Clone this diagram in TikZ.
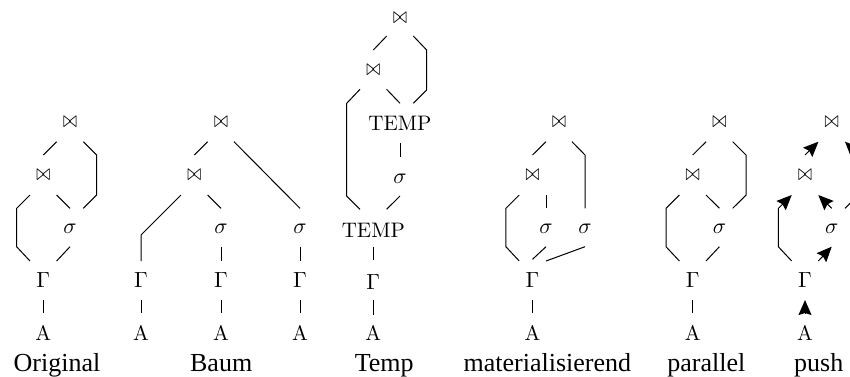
\documentclass[tikz,border=0pt]{standalone}
\usepackage{fontspec}
\usepackage{graphicx}
\newfontfamily\lblfont{Liberation Serif}
\usetikzlibrary{arrows.meta}
\newcommand\jsym{\resizebox{7pt}{5.4pt}{$\bowtie$}}
\tikzset{
  tn/.style={inner sep=0pt, font=\fontsize{10.5}{12}\selectfont},
  jn/.style={inner sep=0pt},
  lbl/.style={anchor=base, inner sep=0pt, font=\lblfont\fontsize{13}{15}\selectfont},
  edge/.style={line width=0.5pt},
  pushedge/.style={line width=0.5pt, {Stealth[length=7.5pt,width=6.5pt,inset=1pt]}-},
}
\newcommand\looptree[4]{%
  \begin{scope}[shift={(#2,0)}]
    \node[jn] (#1a) at (26.7,122) {\jsym};
    \node[jn] (#1b) at (0,175) {\jsym};
    \node[tn] (#1c) at (26.7,229) {$\sigma$};
    \node[tn] (#1d) at (0,280) {$\Gamma$};
    \node[tn] (#1e) at (0,332.5) {A};
    \node[lbl] (#1l) at (13.7,371) {#4};
    \draw[#3] ([shift={(-13.3,19.7)}]#1a.center) -- ([shift={(0,-20)}]#1b.center);
    \draw[#3] ([shift={(13.3,19.7)}]#1a.center) -- ++(13.3,13.3) -- ([shift={(26.7,-34)}]#1c.center) -- ([shift={(13.3,-20.7)}]#1c.center);
    \draw[#3] ([shift={(13.3,20)}]#1b.center) -- ([shift={(0,-20.7)}]#1c.center);
    \draw[#3] ([shift={(-13.3,20)}]#1b.center) -- ++(-13.3,13.3) -- ([shift={(-26.7,-33.3)}]#1d.center) -- ([shift={(-13.3,-19)}]#1d.center);
    \draw[#3] ([shift={(0,17.7)}]#1c.center) -- ([shift={(13.3,-19)}]#1d.center);
    \draw[#3] ([shift={(0,20)}]#1d.center) -- ([shift={(0,-19.2)}]#1e.center);
  \end{scope}}
\begin{document}
\begin{tikzpicture}[x=0.5pt,y=-0.5pt]
  \useasboundingbox (0,0) rectangle (850,376);
  % Original
  \looptree{o}{43.3}{edge}{Original}
  % Baum
  \node[jn] (b1) at (221,122) {\jsym};
  \node[jn] (b2) at (194.3,175) {\jsym};
  \node[tn] (b3) at (221,229) {$\sigma$};
  \node[tn] (b4) at (300,229) {$\sigma$};
  \node[tn] (b5) at (141,280) {$\Gamma$};
  \node[tn] (b6) at (221,280) {$\Gamma$};
  \node[tn] (b7) at (300,280) {$\Gamma$};
  \node[tn] (b8) at (141,332.5) {A};
  \node[tn] (b9) at (221,332.5) {A};
  \node[tn] (b10) at (300,332.5) {A};
  \node[lbl] (bl) at (221.2,371) {Baum};
  \draw[edge] ([shift={(-13.3,19.7)}]b1.center) -- ([shift={(0,-20)}]b2.center);
  \draw[edge] ([shift={(13,19.7)}]b1.center) -- ([shift={(0,-20.7)}]b4.center);
  \draw[edge] ([shift={(-13.3,20)}]b2.center) -- ++(-40,40) -- ([shift={(0,-19)}]b5.center);
  \draw[edge] ([shift={(13.3,20)}]b2.center) -- ([shift={(0,-20.7)}]b3.center);
  \draw[edge] ([shift={(0,17.7)}]b3.center) -- ([shift={(0,-19)}]b6.center);
  \draw[edge] ([shift={(0,17.7)}]b4.center) -- ([shift={(0,-19)}]b7.center);
  \draw[edge] ([shift={(0,20)}]b5.center) -- ([shift={(0,-19.2)}]b8.center);
  \draw[edge] ([shift={(0,20)}]b6.center) -- ([shift={(0,-19.2)}]b9.center);
  \draw[edge] ([shift={(0,20)}]b7.center) -- ([shift={(0,-19.2)}]b10.center);
  % Temp
  \node[jn] (t1) at (400,18.3) {\jsym};
  \node[jn] (t2) at (373.3,70) {\jsym};
  \node[tn] (t3) at (400,123.3) {TEMP};
  \node[tn] (t4) at (400,178.3) {$\sigma$};
  \node[tn] (t5) at (373.3,230) {TEMP};
  \node[tn] (t6) at (373.3,281.7) {$\Gamma$};
  \node[tn] (t7) at (373.3,332.5) {A};
  \node[lbl] (tl) at (384.2,371) {Temp};
  \draw[edge] ([shift={(-13.3,17.7)}]t1.center) -- ([shift={(0,-20)}]t2.center);
  \draw[edge] ([shift={(13.3,17.7)}]t1.center) -- ++(13.3,14) -- ([shift={(26.7,-33.3)}]t3.center) -- ([shift={(13.3,-20)}]t3.center);
  \draw[edge] ([shift={(13.3,19.3)}]t2.center) -- ([shift={(0,-20)}]t3.center);
  \draw[edge] ([shift={(-13.3,19.3)}]t2.center) -- ++(-13.3,14) -- ([shift={(-26.7,-34)}]t5.center) -- ([shift={(-13.3,-20.7)}]t5.center);
  \draw[edge] ([shift={(0,20)}]t3.center) -- ([shift={(0,-21.6)}]t4.center);
  \draw[edge] ([shift={(0,17.7)}]t4.center) -- ([shift={(13.3,-20.7)}]t5.center);
  \draw[edge] ([shift={(0,16.7)}]t5.center) -- ([shift={(0,-21.7)}]t6.center);
  \draw[edge] ([shift={(0,18.3)}]t6.center) -- ([shift={(0,-17.5)}]t7.center);
  % materialisierend
  \node[jn] (m1) at (559,122.5) {\jsym};
  \node[jn] (m2) at (532.5,175) {\jsym};
  \node[tn] (m3) at (546,229) {$\sigma$};
  \node[tn] (m4) at (585,229) {$\sigma$};
  \node[tn] (m5) at (532.5,280) {$\Gamma$};
  \node[tn] (m6) at (532.5,332.5) {A};
  \node[lbl] (ml) at (547.3,371) {materialisierend};
  \draw[edge] ([shift={(-13,19.2)}]m1.center) -- ([shift={(0,-20)}]m2.center);
  \draw[edge] ([shift={(13,19.2)}]m1.center) -- ++(13,13.3) -- ([shift={(0,-20.7)}]m4.center);
  \draw[edge] ([shift={(13.5,20)}]m2.center) -- ([shift={(0,-20.7)}]m3.center);
  \draw[edge] ([shift={(-13.3,20)}]m2.center) -- ++(-13.3,13.3) -- ([shift={(-26.6,-33.3)}]m5.center) -- ([shift={(-13.3,-19)}]m5.center);
  \draw[edge] ([shift={(0,17.7)}]m3.center) -- ([shift={(0,-20.7)}]m5.center);
  \draw[edge] ([shift={(0,17.7)}]m4.center) -- ([shift={(13.5,-19)}]m5.center);
  \draw[edge] ([shift={(0,20)}]m5.center) -- ([shift={(0,-19.2)}]m6.center);
  % parallel
  \looptree{p}{692.7}{edge}{parallel}
  % push
  \looptree{u}{805}{pushedge}{push}
\end{tikzpicture}
\end{document}
